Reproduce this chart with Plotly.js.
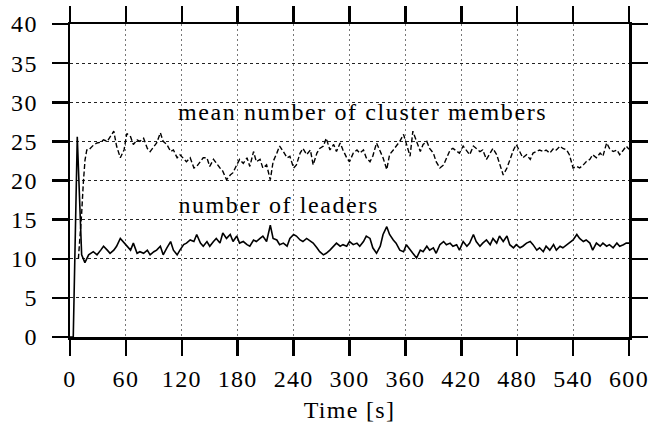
<!DOCTYPE html>
<html>
<head>
<meta charset="utf-8">
<script src="https://cdn.plot.ly/plotly-3.0.1.min.js"></script>
<style>
html,body{margin:0;padding:0;background:#fff;}
#chart{width:667px;height:432px;}
#chart svg text{letter-spacing:1.3px;}
#chart svg g.annotation text{letter-spacing:1.6px;}
</style>
</head>
<body>
<div id="chart"></div>
<script>
// ---- data ----
var xTickVals = [0,60,120,180,240,300,360,420,480,540,600];
var yTickVals = [0,5,10,15,20,25,30,35,40];

var leadersHeadT = [0,3.5,7.8,12.5,16];
var leadersHeadV = [0,0,25.6,10.5,9.5];

var meanHeadT = [9,11,12.5,14.3,16.1,18];
var meanHeadV = [10,13,15.8,19.7,22.6,23.9];

var tailT = [
 20,25,29,33,36,40,43,47,50,54,58,61,65,68,72,75,79,83,86,90,93,97,100,104,108,111,115,118,122,125,129,133,136,140,143,
 147,150,154,157,161,164,168,172,175,179,182,186,190,193,197,200,204,207,211,215,218,222,225,229,233,236,240,243,247,250,254,258,261,265,268,272,275,279,283,286,290,293,
 297,300,304,308,311,315,318,322,325,329,333,336,340,343,347,350,354,358,361,365,368,372,376,379,383,386,390,393,397,401,404,408,411,415,418,422,426,429,433,436,440,443,
 447,451,454,458,461,465,469,472,476,479,483,486,490,494,497,501,504,508,511,515,519,522,526,529,533,536,540,544,547,551,554,558,561,565,569,572,576,579,583,587,590,594,597,600
];

var leadersTail = [
 10.5,10.9,10.5,11.1,11.6,11.1,10.7,11.1,11.6,12.6,12.0,11.6,11.1,12.0,10.7,10.9,10.7,11.1,10.5,10.9,11.1,11.6,10.5,11.4,12.2,11.1,10.5,11.1,11.8,12.0,12.4,12.2,13.1,12.0,11.6,
 12.2,11.6,12.2,12.6,12.0,13.3,12.6,13.1,12.2,12.9,12.0,12.2,11.8,11.6,12.4,12.2,12.6,12.9,12.2,14.3,12.6,12.4,11.8,12.0,11.6,12.6,13.1,12.9,12.4,12.2,12.6,12.2,12.0,11.4,10.9,10.5,10.7,11.1,11.6,12.0,11.6,11.8,
 11.6,12.2,11.8,12.0,11.6,12.2,12.9,12.6,11.4,10.7,11.6,13.1,14.1,13.1,12.4,12.0,11.1,10.9,11.8,11.1,10.7,10.1,11.1,10.9,11.6,11.1,11.4,10.7,11.8,12.2,11.8,12.0,11.6,11.8,11.1,12.2,11.6,12.0,13.1,12.2,11.6,12.0,
 12.4,11.8,12.6,12.0,12.9,12.2,12.9,11.8,11.4,11.8,11.4,11.6,12.0,12.2,11.8,11.1,11.4,10.9,11.6,11.1,11.8,11.1,11.6,11.4,11.8,12.0,12.4,13.1,12.6,12.2,12.4,12.0,11.1,12.0,11.6,12.0,11.6,11.8,11.4,12.0,11.6,11.8,12.0,12.0
];

var meanTail = [
 23.9,24.5,24.8,24.9,25.2,25.0,25.5,26.3,24.4,22.9,23.9,26.0,25.6,24.6,25.2,25.0,25.4,24.1,23.7,24.4,24.8,26.1,25.0,24.6,23.7,23.9,22.9,23.3,22.7,22.4,22.9,21.6,21.8,22.4,22.9,
 22.9,21.8,22.7,22.2,21.6,21.2,20.1,20.7,21.0,22.0,22.7,22.2,22.9,21.8,23.7,22.4,22.7,21.6,22.0,20.1,22.4,23.5,24.4,23.7,22.9,23.1,21.6,22.0,23.5,24.1,23.3,23.9,22.0,23.5,24.1,24.4,25.4,23.9,24.6,23.7,24.8,23.9,
 22.9,22.4,23.5,23.9,23.5,23.9,22.9,22.4,23.1,24.8,23.7,22.9,21.4,23.3,23.9,24.4,25.0,25.9,24.8,23.1,26.3,25.0,23.7,24.6,25.0,24.1,23.5,22.4,21.6,22.0,22.9,23.9,24.1,23.7,23.5,24.4,23.7,23.3,24.4,24.1,23.7,23.9,
 22.7,23.5,24.1,23.3,22.2,20.7,21.6,22.7,23.9,24.6,23.5,22.9,23.3,22.7,23.5,23.7,23.9,23.7,23.9,23.5,24.1,23.9,24.4,24.1,23.9,23.3,21.6,21.8,21.6,22.0,22.4,22.7,23.3,22.9,23.5,23.1,24.8,24.1,23.7,23.9,23.3,23.9,24.4,24.0
];

var labelMean = "mean number of cluster members";
var labelLeaders = "number of leaders";
var xTitle = "Time [s]";

// ---- figure ----
var FONT = "Liberation Serif, Times New Roman, serif";
var fs = 24;

var traces = [
  {x: leadersHeadT.concat(tailT), y: leadersHeadV.concat(leadersTail), type:'scatter', mode:'lines',
   line:{color:'#000', width:1.6}, hoverinfo:'skip'},
  {x: meanHeadT.concat(tailT), y: meanHeadV.concat(meanTail), type:'scatter', mode:'lines',
   line:{color:'#000', width:1.4, dash:'5px,2.5px'}, hoverinfo:'skip'},
  {x: [0], y: [0], xaxis:'x2', yaxis:'y2', type:'scatter', mode:'markers', marker:{opacity:0}, hoverinfo:'skip'}
];

var tickCommon = {
  showline:true, linecolor:'#000', linewidth:2.5,
  ticks:'outside', ticklen:16, tickwidth:2.5, tickcolor:'#000',
  zeroline:false
};

var layout = {
  width:667, height:432,
  margin:{l:70, r:38, t:24, b:95},
  paper_bgcolor:'#fff', plot_bgcolor:'#fff',
  showlegend:false,
  font:{family:FONT, size:fs, color:'#000'},
  xaxis: Object.assign({}, tickCommon, {
    range:[0,600], tickvals:xTickVals, ticktext:xTickVals.map(String),
    showgrid:true, gridwidth:1, gridcolor:'#777', griddash:'2px,3px',
    tickfont:{family:FONT, size:fs, color:'#000'},
    ticklabelstandoff:3,
    title:{text:xTitle, font:{family:FONT, size:fs, color:'#000'}, standoff:10}
  }),
  yaxis: Object.assign({}, tickCommon, {
    range:[0,40], tickvals:yTickVals, ticktext:yTickVals.map(String),
    showgrid:true, gridwidth:1, gridcolor:'#222', griddash:'3px,3px',
    tickfont:{family:FONT, size:fs, color:'#000'},
    ticklabelstandoff:9
  }),
  xaxis2: Object.assign({}, tickCommon, {
    overlaying:'x', side:'top', range:[0,600], tickvals:xTickVals,
    showticklabels:false, showgrid:false
  }),
  yaxis2: Object.assign({}, tickCommon, {
    overlaying:'y', side:'right', range:[0,40], tickvals:yTickVals,
    showticklabels:false, showgrid:false
  }),
  annotations:[
    {x:140, y:28.8, xref:'x', yref:'y', text:labelMean, showarrow:false, xanchor:'left', yanchor:'middle',
     font:{family:FONT, size:fs, color:'#000'}},
    {x:129, y:16.9, xref:'x', yref:'y', text:labelLeaders, showarrow:false, xanchor:'left', yanchor:'middle',
     font:{family:FONT, size:fs, color:'#000'}}
  ]
};

Plotly.newPlot('chart', traces, layout, {displayModeBar:false, staticPlot:true});
</script>
</body>
</html>
